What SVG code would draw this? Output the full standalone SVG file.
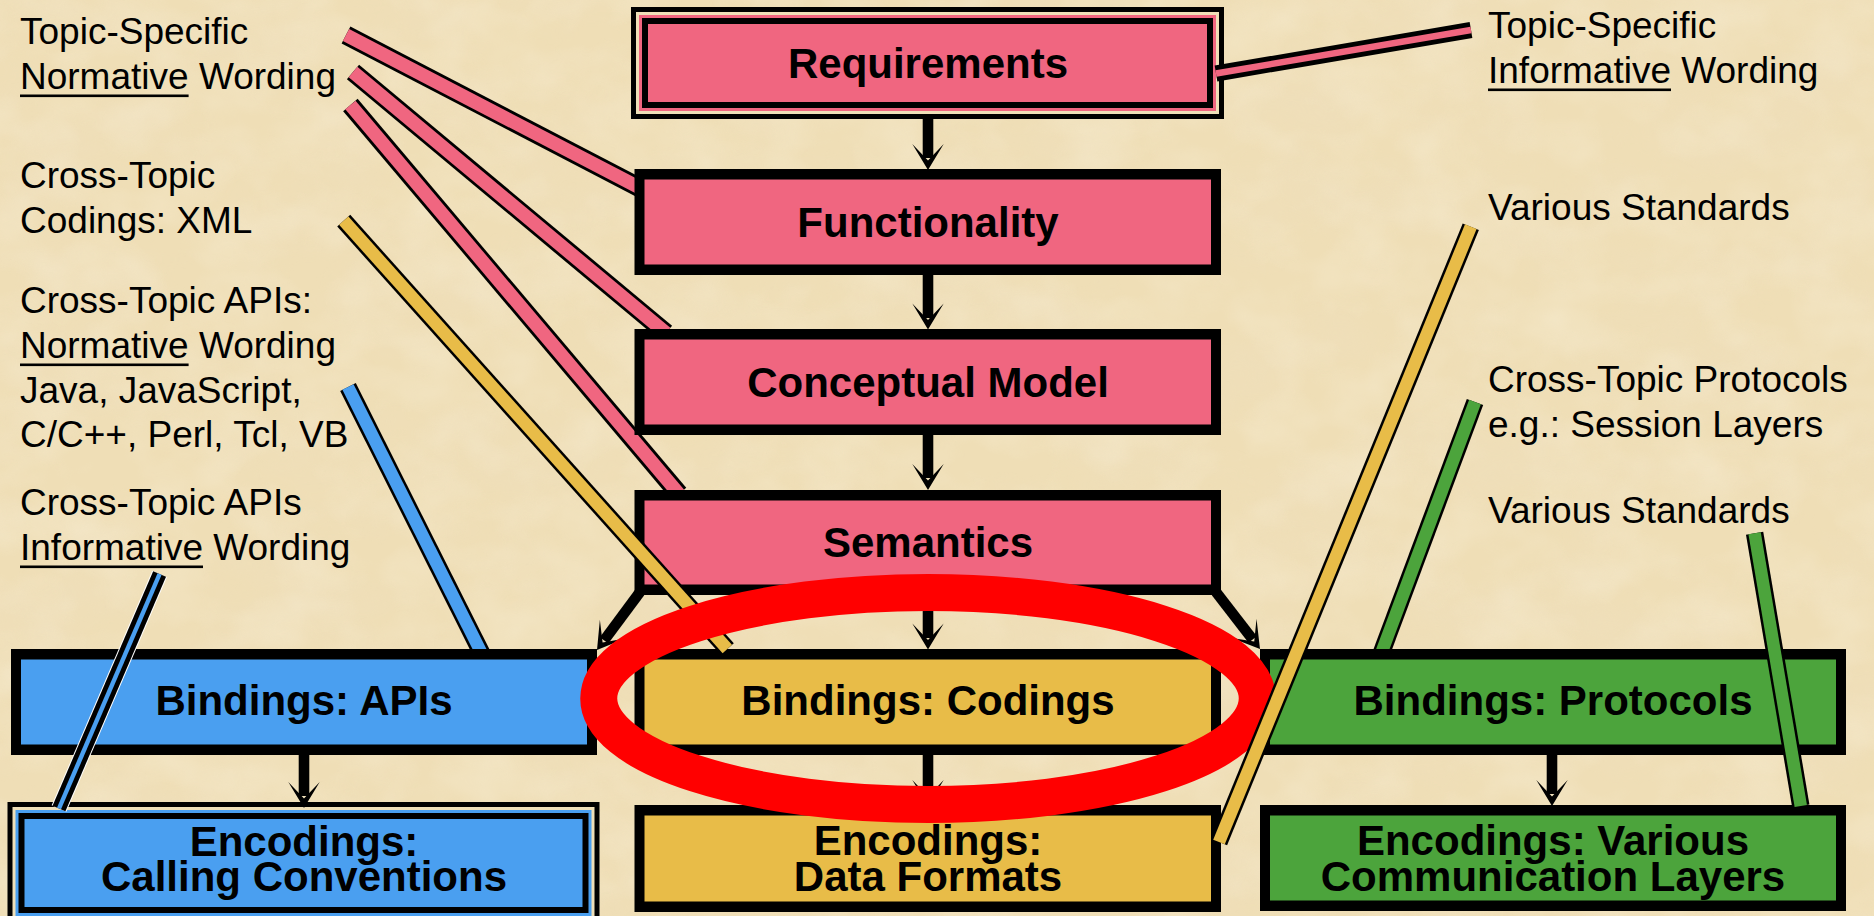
<svg xmlns="http://www.w3.org/2000/svg" xmlns:xlink="http://www.w3.org/1999/xlink" width="1874" height="916" viewBox="0 0 1874 916">
<defs>
<style>
.t{font-family:"Liberation Sans",Arial,Helvetica,sans-serif;font-size:37px;fill:#000}
.b{font-family:"Liberation Sans",Arial,Helvetica,sans-serif;font-size:42px;font-weight:bold;fill:#000;text-anchor:middle}
.k{fill:#000}
.pk{fill:#f06680}
.bl{fill:#4a9ff0}
.ye{fill:#e8bc48}
.gr{fill:#4ca43c}
.cr{fill:#efdfb8}
.ul{fill:#000}
.lo{stroke:#000;stroke-width:17.5;fill:none;stroke-linecap:butt}
.lop{stroke:#000;stroke-width:19;fill:none;stroke-linecap:butt}
.lpk{stroke:#f06680;stroke-width:13.5;fill:none}
.lye{stroke:#e8bc48;stroke-width:12.5;fill:none}
.lbl{stroke:#4a9ff0;stroke-width:12.5;fill:none}
.lgr{stroke:#4ca43c;stroke-width:12.5;fill:none}
.shaft{stroke:#000;stroke-width:10.6;fill:none}
</style>
<path id="ah" d="M0,0 L-15.7,-26 L0,-9.4 L15.7,-26 Z" fill="#000"/>
<filter id="paper" x="0" y="0" width="100%" height="100%">
<feTurbulence type="fractalNoise" baseFrequency="0.008 0.012" numOctaves="4" seed="7" result="n"/>
<feColorMatrix in="n" type="matrix" values="0 0 0 0 0.86  0 0 0 0 0.74  0 0 0 0 0.52  1.5 0 0 0 -0.6"/>
</filter>
<filter id="paper2" x="0" y="0" width="100%" height="100%">
<feTurbulence type="fractalNoise" baseFrequency="0.015 0.02" numOctaves="3" seed="21" result="n"/>
<feColorMatrix in="n" type="matrix" values="0 0 0 0 0.98  0 0 0 0 0.94  0 0 0 0 0.82  0 1.2 0 0 -0.45"/>
</filter>
</defs>

<g id="background">
<rect x="0" y="0" width="1874" height="916" fill="#efdeb6"/>
<rect x="0" y="0" width="1874" height="916" filter="url(#paper)" opacity="0.6"/>
<rect x="0" y="0" width="1874" height="916" filter="url(#paper2)" opacity="0.4"/>
</g>

<g id="labels">
<text class="t" x="20" y="44">Topic-Specific</text>
<text class="t" x="20" y="89">Normative Wording</text>
<rect class="ul" x="20" y="94.5" width="168.6" height="2.6"/>
<text class="t" x="20" y="188">Cross-Topic</text>
<text class="t" x="20" y="233">Codings: XML</text>
<text class="t" x="20" y="313">Cross-Topic APIs:</text>
<text class="t" x="20" y="358">Normative Wording</text>
<rect class="ul" x="20" y="363.5" width="168.6" height="2.6"/>
<text class="t" x="20" y="403">Java, JavaScript,</text>
<text class="t" x="20" y="447">C/C++, Perl, Tcl, VB</text>
<text class="t" x="20" y="515">Cross-Topic APIs</text>
<text class="t" x="20" y="560">Informative Wording</text>
<rect class="ul" x="20" y="565.5" width="183" height="2.6"/>
<text class="t" x="1488" y="38">Topic-Specific</text>
<text class="t" x="1488" y="83">Informative Wording</text>
<rect class="ul" x="1488" y="88.5" width="183" height="2.6"/>
<text class="t" x="1488" y="220">Various Standards</text>
<text class="t" x="1488" y="392">Cross-Topic Protocols</text>
<text class="t" x="1488" y="437">e.g.: Session Layers</text>
<text class="t" x="1488" y="523">Various Standards</text>
</g>

<g id="connectors-under">
<line class="lop" x1="346" y1="35" x2="644" y2="190"/>
<line class="lpk" x1="346" y1="35" x2="644" y2="190"/>
<line class="lop" x1="353" y1="72" x2="666" y2="333"/>
<line class="lpk" x1="353" y1="72" x2="666" y2="333"/>
<line class="lop" x1="350.4" y1="105" x2="679" y2="494"/>
<line class="lpk" x1="350.4" y1="105" x2="679" y2="494"/>
<line class="lo" x1="348" y1="387" x2="482" y2="654"/>
<line class="lbl" x1="348" y1="387" x2="482" y2="654"/>
<line class="lo" x1="1475" y1="402" x2="1381" y2="654"/>
<line class="lgr" x1="1475" y1="402" x2="1381" y2="654"/>
</g>

<g id="requirements">
<rect class="k" x="631" y="7" width="593" height="112"/>
<rect class="cr" x="636" y="12" width="583" height="102"/>
<rect class="pk" x="639" y="15" width="577" height="96"/>
<rect class="k" x="642" y="18" width="571" height="90"/>
<rect class="pk" x="648" y="24" width="559" height="78"/>
<text class="b" x="928" y="78">Requirements</text>
</g>
<g id="functionality">
<rect class="k" x="634.5" y="169" width="586.5" height="106"/>
<rect class="pk" x="644.5" y="179.5" width="566.5" height="85"/>
<text class="b" x="928" y="237">Functionality</text>
</g>
<g id="conceptual-model">
<rect class="k" x="634.5" y="329" width="586.5" height="106"/>
<rect class="pk" x="644.5" y="339.5" width="566.5" height="85"/>
<text class="b" x="928" y="397">Conceptual Model</text>
</g>
<g id="semantics">
<rect class="k" x="634.5" y="490" width="586.5" height="105"/>
<rect class="pk" x="644.5" y="500.5" width="566.5" height="84"/>
<text class="b" x="928" y="557">Semantics</text>
</g>
<g id="bindings-apis">
<rect class="k" x="11" y="649" width="586" height="106"/>
<rect class="bl" x="21" y="659.5" width="566" height="85"/>
<text class="b" x="304" y="715">Bindings: APIs</text>
</g>
<g id="bindings-codings">
<rect class="k" x="634.5" y="649" width="586.5" height="106"/>
<rect class="ye" x="644.5" y="659.5" width="566.5" height="85"/>
<text class="b" x="928" y="715">Bindings: Codings</text>
</g>
<g id="bindings-protocols">
<rect class="k" x="1260" y="649" width="586" height="106"/>
<rect class="gr" x="1270" y="659.5" width="566" height="85"/>
<text class="b" x="1553" y="715">Bindings: Protocols</text>
</g>
<g id="encodings-calling">
<rect class="k" x="7.5" y="802" width="592" height="122"/>
<rect class="cr" x="12.5" y="807" width="582" height="112"/>
<rect class="bl" x="15.5" y="810" width="576" height="106"/>
<rect class="k" x="18.5" y="813" width="570" height="100"/>
<rect class="bl" x="24.5" y="819" width="558" height="88"/>
<text class="b" x="304" y="856">Encodings:<tspan x="304" dy="35">Calling Conventions</tspan></text>
</g>
<g id="encodings-data">
<rect class="k" x="634.5" y="805" width="586.5" height="107"/>
<rect class="ye" x="644.5" y="815.5" width="566.5" height="86"/>
<text class="b" x="928" y="855">Encodings:<tspan x="928" dy="36">Data Formats</tspan></text>
</g>
<g id="encodings-various">
<rect class="k" x="1260" y="805" width="586" height="106"/>
<rect class="gr" x="1270" y="815.5" width="566" height="85"/>
<text class="b" x="1553" y="855">Encodings: Various<tspan x="1553" dy="36">Communication Layers</tspan></text>
</g>

<g id="connectors">
<line class="shaft" x1="928" y1="119" x2="928" y2="158"/>
<use xlink:href="#ah" transform="translate(928,170)"/>
<line class="shaft" x1="928" y1="275" x2="928" y2="318"/>
<use xlink:href="#ah" transform="translate(928,329.5)"/>
<line class="shaft" x1="928" y1="435" x2="928" y2="478"/>
<use xlink:href="#ah" transform="translate(928,490)"/>
<line class="shaft" x1="928" y1="595" x2="928" y2="638"/>
<use xlink:href="#ah" transform="translate(928,649.5)"/>
<line class="shaft" x1="928" y1="755" x2="928" y2="794"/>
<use xlink:href="#ah" transform="translate(928,806)"/>
<line class="shaft" x1="304" y1="755" x2="304" y2="796"/>
<use xlink:href="#ah" transform="translate(304,808)"/>
<line class="shaft" x1="1552" y1="755" x2="1552" y2="794"/>
<use xlink:href="#ah" transform="translate(1552,806)"/>
<line class="shaft" x1="640" y1="592" x2="604.1" y2="640.4"/>
<use xlink:href="#ah" transform="translate(597,650) rotate(36.55)"/>
<line class="shaft" x1="1216" y1="592" x2="1252.7" y2="639.5"/>
<use xlink:href="#ah" transform="translate(1260,649) rotate(-37.7)"/>

<line class="lo" x1="343.75" y1="220.7" x2="727.3" y2="649"/>
<line class="lye" x1="343.75" y1="220.7" x2="727.3" y2="649"/>
<line class="lo" x1="1754.6" y1="533.3" x2="1800.8" y2="806"/>
<line class="lgr" x1="1754.6" y1="533.3" x2="1800.8" y2="806"/>
<line x1="159.6" y1="574" x2="59" y2="808.5" stroke="#fff" stroke-width="16"/>
<line x1="159.6" y1="574" x2="59" y2="808.5" stroke="#000" stroke-width="14"/>
<line x1="159.6" y1="574" x2="59" y2="808.5" stroke="#4a9ff0" stroke-width="4.4"/>
<line x1="1216" y1="73.5" x2="1471" y2="30" stroke="#000" stroke-width="16"/>
<line x1="1216" y1="73.5" x2="1471" y2="30" stroke="#f06680" stroke-width="6.5"/>
</g>

<g id="highlight">
<ellipse cx="928" cy="698.5" rx="329.25" ry="106" fill="none" stroke="#ff0000" stroke-width="37"/>
</g>

<g id="connectors-over">
<line class="lo" x1="1470.8" y1="226.7" x2="1219" y2="842"/>
<line class="lye" x1="1470.8" y1="226.7" x2="1219" y2="842"/>
</g>
</svg>
